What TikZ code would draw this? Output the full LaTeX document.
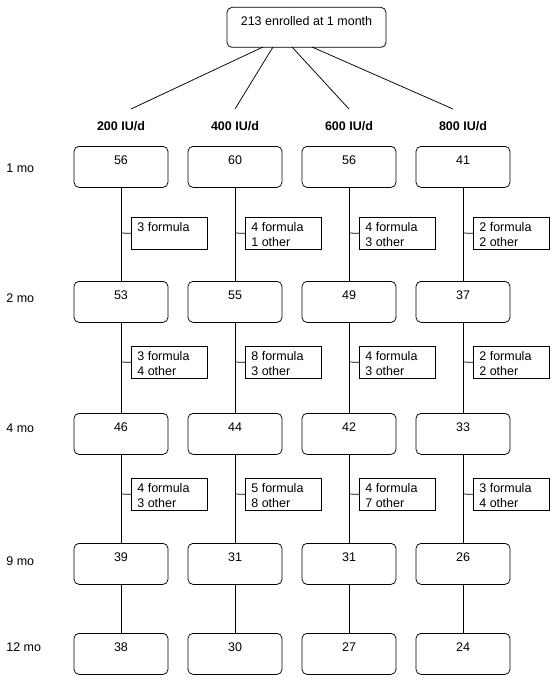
\documentclass[tikz,border=0pt]{standalone}
\usepackage{fontspec}
\setmainfont{Liberation Sans}
\begin{document}
\begin{tikzpicture}[x=1pt,y=-1pt,
  line width=0.75pt,
  mainbox/.style={draw, rounded corners=5pt, minimum width=94pt, text height=14pt, text depth=18pt, inner ysep=4.5pt, font=\fontsize{12.5}{14}\selectfont, anchor=north},
  topbox/.style={mainbox, minimum width=159pt, text height=14pt, text depth=17pt},
  sidebox/.style={draw, anchor=north west, inner xsep=6pt, inner ysep=5.5pt},
  head/.style={anchor=base, font=\bfseries\fontsize{12.5}{14}\selectfont},
  rowlab/.style={anchor=base west, inner sep=0pt, font=\fontsize{12.5}{14}\selectfont}]
\useasboundingbox (0,0) rectangle (555,682);
\newcommand{\sidetxt}[1]{\parbox[t][21pt][t]{64pt}{\fontsize{12.5}{15}\selectfont #1}}
% top box
\node[topbox] (top) at (306.5,7) {213 enrolled at 1 month};
% row labels
\node[rowlab] (l1) at (6,172) {1 mo};
\node[rowlab] (l2) at (6,302) {2 mo};
\node[rowlab] (l4) at (6,432) {4 mo};
\node[rowlab] (l9) at (6,565) {9 mo};
\node[rowlab] (l12) at (6,651) {12 mo};
% columns
\foreach \c/\x/\h/\sx/\ex/\va/\vb/\vc/\vd/\ve/\sa/\sb/\sc in {
  1/121/200/263/131/56/53/46/39/38/{3 formula}/{3 formula\\4 other}/{4 formula\\3 other},
  2/235/400/273/235/60/55/44/31/30/{4 formula\\1 other}/{8 formula\\3 other}/{5 formula\\8 other},
  3/349/600/292/349/56/49/42/31/27/{4 formula\\3 other}/{4 formula\\3 other}/{4 formula\\7 other},
  4/463/800/312/453/41/37/33/26/24/{2 formula\\2 other}/{2 formula\\2 other}/{3 formula\\4 other}}{
  \node[head] (h\c) at (\x,131) {\h\ IU/d};
  \coordinate (ts\c) at (\sx,47);
  \coordinate (te\c) at (\ex,109);
  \draw (ts\c) -- (te\c);
  \node[mainbox] (m\c a) at (\x,146) {\va};
  \node[mainbox] (m\c b) at (\x,281) {\vb};
  \node[mainbox] (m\c c) at (\x,413) {\vc};
  \node[mainbox] (m\c d) at (\x,543) {\vd};
  \node[mainbox] (m\c e) at (\x,633) {\ve};
  \draw (m\c a.south) -- (m\c b.north);
  \draw (m\c b.south) -- (m\c c.north);
  \draw (m\c c.south) -- (m\c d.north);
  \draw (m\c d.south) -- (m\c e.north);
  \node[sidebox] (s\c a) at (\x+10,217) {\sidetxt{\sa}};
  \node[sidebox] (s\c b) at (\x+10,346) {\sidetxt{\sb}};
  \node[sidebox] (s\c c) at (\x+10,478) {\sidetxt{\sc}};
  \coordinate (k\c a) at (\x,233);
  \coordinate (k\c b) at (\x,362);
  \coordinate (k\c c) at (\x,494);
  \draw (k\c a) -- (s\c a.west);
  \draw (k\c b) -- (s\c b.west);
  \draw (k\c c) -- (s\c c.west);
}
\end{tikzpicture}
\end{document}
